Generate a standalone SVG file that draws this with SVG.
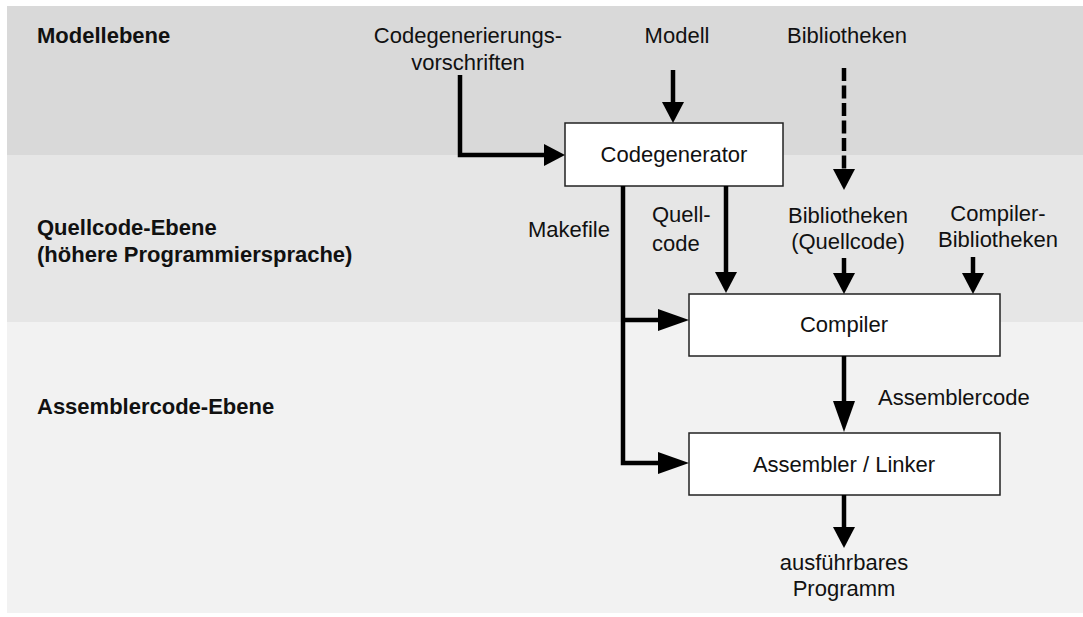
<svg xmlns="http://www.w3.org/2000/svg" width="1083" height="617" viewBox="0 0 1083 617">
  <style>
    text { font-family: "Liberation Sans", Arial, sans-serif; font-size: 22px; fill: #111; }
    .lvl { font-weight: bold; }
    .mid { text-anchor: middle; }
    .box { fill: #ffffff; stroke: #222; stroke-width: 1.5; }
    .wire { fill: none; stroke: #000; stroke-width: 4.5; }
    .dash { stroke-dasharray: 13 4.5; }
  </style>
  <defs>
    <marker id="head" markerUnits="userSpaceOnUse" markerWidth="21" markerHeight="23" refX="0" refY="11" orient="auto">
      <path d="M0,0 L21,11 L0,22 z" fill="#000"/>
    </marker>
    <marker id="headLong" markerUnits="userSpaceOnUse" markerWidth="31" markerHeight="23" refX="0" refY="11" orient="auto">
      <path d="M0,0 L31,11 L0,22 z" fill="#000"/>
    </marker>
  </defs>

  <!-- abstraction levels -->
  <g id="levels">
    <rect x="7" y="6" width="1076" height="149" fill="#d9d9d9"/>
    <rect x="7" y="155" width="1076" height="167" fill="#e6e6e6"/>
    <rect x="7" y="322" width="1076" height="291" fill="#f2f2f2"/>
    <text class="lvl" x="37" y="43">Modellebene</text>
    <text class="lvl" x="37" y="235">Quellcode-Ebene</text>
    <text class="lvl" x="37" y="262">(höhere Programmiersprache)</text>
    <text class="lvl" x="37" y="414">Assemblercode-Ebene</text>
  </g>

  <!-- inputs and outputs -->
  <g id="inputs">
    <text class="mid" x="468" y="43">Codegenerierungs-</text>
    <text class="mid" x="468" y="70">vorschriften</text>
    <text class="mid" x="677" y="43">Modell</text>
    <text class="mid" x="847" y="43">Bibliotheken</text>
    <text class="mid" x="848" y="223">Bibliotheken</text>
    <text class="mid" x="848" y="249">(Quellcode)</text>
    <text class="mid" x="998" y="221">Compiler-</text>
    <text class="mid" x="998" y="247">Bibliotheken</text>
    <text class="mid" x="844" y="570">ausführbares</text>
    <text class="mid" x="844" y="596">Programm</text>
  </g>

  <!-- tools -->
  <g id="codegenerator">
    <rect class="box" x="565" y="123" width="218" height="63"/>
    <text class="mid" x="674" y="162">Codegenerator</text>
  </g>
  <g id="compiler">
    <rect class="box" x="689" y="294" width="311" height="62"/>
    <text class="mid" x="844" y="332">Compiler</text>
  </g>
  <g id="assembler">
    <rect class="box" x="689" y="433" width="311" height="62"/>
    <text class="mid" x="844" y="472">Assembler / Linker</text>
  </g>

  <!-- data flow -->
  <g id="connectors">
    <path class="wire" d="M460,75 V155 H544" marker-end="url(#head)"/>
    <path class="wire" d="M673,70 V102" marker-end="url(#head)"/>
    <path class="wire dash" d="M844,68 V169" marker-end="url(#head)"/>
    <path class="wire" d="M726,186 V272" marker-end="url(#head)"/>
    <path class="wire" d="M844,258 V273" marker-end="url(#head)"/>
    <path class="wire" d="M973,257 V273" marker-end="url(#head)"/>
    <path class="wire" d="M623,186 V463 H658" marker-end="url(#headLong)"/>
    <path class="wire" d="M623,320 H658" marker-end="url(#headLong)"/>
    <path class="wire" d="M844,356 V401" marker-end="url(#headLong)"/>
    <path class="wire" d="M844,495 V527" marker-end="url(#head)"/>
    <text x="528" y="237">Makefile</text>
    <text x="652" y="222">Quell-</text>
    <text x="652" y="251">code</text>
    <text x="878" y="405">Assemblercode</text>
  </g>
</svg>
